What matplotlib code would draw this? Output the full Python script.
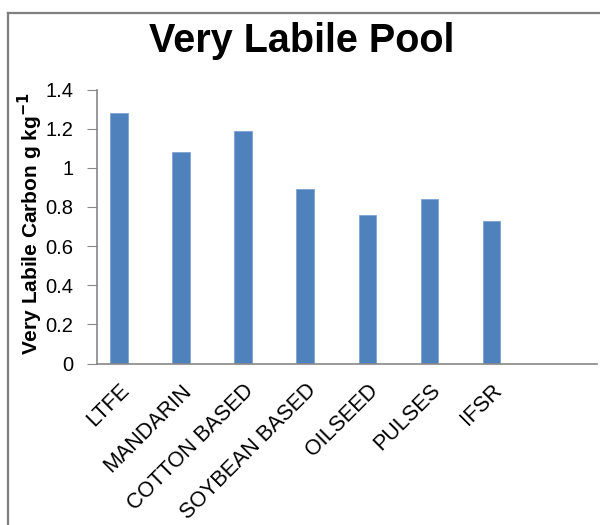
import matplotlib
matplotlib.use("Agg")
import matplotlib.pyplot as plt
from matplotlib.lines import Line2D
import matplotlib.transforms as mtransforms
import numpy as np

categories = ["LTFE", "MANDARIN", "COTTON BASED", "SOYBEAN BASED", "OILSEED", "PULSES", "IFSR"]
values = [1.28, 1.08, 1.19, 0.89, 0.76, 0.84, 0.73]
yticks = [0, 0.2, 0.4, 0.6, 0.8, 1.0, 1.2, 1.4]
ytick_labels = ["0", "0.2", "0.4", "0.6", "0.8", "1", "1.2", "1.4"]

plt.rcParams["font.family"] = ["Liberation Sans", "DejaVu Sans"]

W, H = 600, 525
fig = plt.figure(figsize=(W / 100, H / 100), dpi=100)

# axes box in pixel terms
left, right, top, bottom = 97, 597, 89.5, 363.5
ax = fig.add_axes([left / W, 1 - bottom / H, (right - left) / W, (bottom - top) / H])

x = np.arange(len(categories))
ax.bar(x, values, width=0.284, color="#4F81BD", edgecolor="#7FA3D3", linewidth=0.6, zorder=2)

ax.set_xlim(-0.355, 7.70)
ax.set_ylim(0, 1.4)
ax.set_yticks(yticks)
ax.set_yticklabels(ytick_labels, fontsize=14.5)
ax.set_xticks(x)
ax.set_xticklabels(categories, fontsize=15.5, rotation=45, ha="right", rotation_mode="anchor")

# shift category labels slightly right
offset = mtransforms.ScaledTranslation(8 / 100, 0, fig.dpi_scale_trans)
for lbl in ax.get_xticklabels():
    lbl.set_transform(lbl.get_transform() + offset)

for s in ["top", "right"]:
    ax.spines[s].set_visible(False)
for s in ["left", "bottom"]:
    ax.spines[s].set_color("#888888")
    ax.spines[s].set_linewidth(1.2)

ax.tick_params(axis="y", direction="out", length=7, color="#888888", pad=10)
ax.tick_params(axis="x", length=0, pad=12)

ax.set_ylabel("Very Labile Carbon g kg$^{\\mathbf{-1}}$", fontsize=15, fontweight="bold")
ax.yaxis.set_label_coords(-(left - 45) / (right - left), 0.51)

fig.text(302 / W, 1 - 41 / H, "Very Labile Pool", fontsize=28.5, fontweight="bold",
         ha="center", va="center")

# outer frame lines
fig.add_artist(Line2D([8 / W, 1], [1 - 13 / H, 1 - 13 / H], transform=fig.transFigure,
                      color="#7F7F7F", linewidth=1.6))
fig.add_artist(Line2D([8 / W, 8 / W], [0, 1 - 13 / H], transform=fig.transFigure,
                      color="#7F7F7F", linewidth=1.6))

fig.savefig("out.png", dpi=100)
